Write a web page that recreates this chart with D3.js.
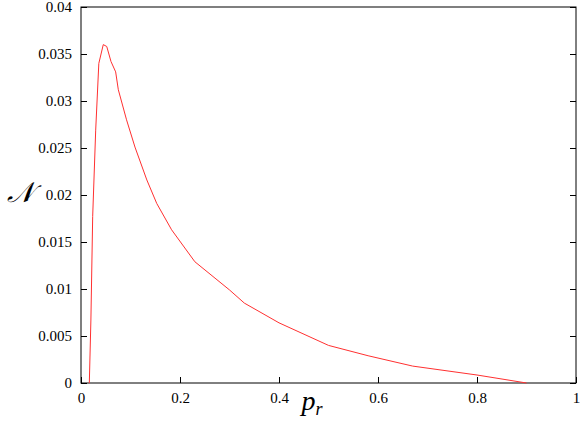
<!DOCTYPE html><html><head><meta charset="utf-8">
<script src="https://cdn.jsdelivr.net/npm/d3@7"></script>
<style>body{margin:0;background:#fff}</style></head><body>
<svg id="c" width="581" height="425" font-family="Liberation Serif, DejaVu Serif, serif"></svg>
<script>
const pr = [0.0168,0.020,0.0236,0.0297,0.036,0.045,0.052,0.0606,0.070,0.0754,0.092,0.109,0.133,0.153,0.183,0.230,0.30,0.33,0.40,0.50,0.58,0.67,0.80,0.90];
const N  = [0,0.0067,0.0177,0.0269,0.034,0.036,0.0358,0.0342,0.0331,0.0312,0.0280,0.0251,0.0216,0.0191,0.0163,0.0129,0.0099,0.0085,0.0064,0.0040,0.0029,0.0018,0.00085,0];
const xTicks = [0,0.2,0.4,0.6,0.8,1];
const yTicks = [0,0.005,0.01,0.015,0.02,0.025,0.03,0.035,0.04];
const svg = d3.select("#c");
const x = d3.scaleLinear().domain([0,1]).range([81,576]);
const y = d3.scaleLinear().domain([0,0.04]).range([383,7]);
const serif = "Liberation Serif, DejaVu Serif, serif";
svg.append("rect").attr("x",81).attr("y",7).attr("width",495).attr("height",376).attr("fill","none").attr("stroke","#000");
svg.append("g").attr("transform","translate(0,383)").call(d3.axisBottom(x).tickValues(xTicks).tickFormat(d3.format("")).tickSizeInner(-6).tickSizeOuter(0).tickPadding(9))
 .call(g=>{g.attr("font-family",serif);g.select(".domain").remove();g.selectAll("text").attr("font-size",15).attr("fill","#000");});
svg.append("g").attr("transform","translate(576,383)").call(d3.axisTop(x).tickValues(xTicks).tickFormat("").tickSizeInner(-6).tickSizeOuter(0)).call(g=>g.select(".domain").remove());
svg.append("g").attr("transform","translate(81,0)").call(d3.axisLeft(y).tickValues(yTicks).tickFormat(d=>d===0?"0":String(d)).tickSizeInner(-6).tickSizeOuter(0).tickPadding(9))
 .call(g=>{g.attr("font-family",serif);g.select(".domain").remove();g.selectAll("text").attr("font-size",15).attr("fill","#000");});
svg.append("g").attr("transform","translate(576,0)").call(d3.axisRight(y).tickValues(yTicks).tickFormat("").tickSizeInner(-6).tickSizeOuter(0)).call(g=>g.select(".domain").remove());
svg.selectAll(".tick line").attr("stroke","#000");
svg.append("path").datum(pr.map((d,i)=>[d,N[i]])).attr("fill","none").attr("stroke","#ff3030").attr("stroke-width",1)
 .attr("d",d3.line().x(d=>x(d[0])).y(d=>y(d[1])));
svg.append("text").attr("x",312).attr("y",410).attr("font-size",28).attr("font-style","italic").attr("text-anchor","middle").html('p<tspan font-size="18" dy="5">r</tspan>');
svg.append("text").attr("x",20).attr("y",202).attr("font-size",28).attr("font-style","italic").attr("text-anchor","middle").text("𝒩");
</script></body></html>
